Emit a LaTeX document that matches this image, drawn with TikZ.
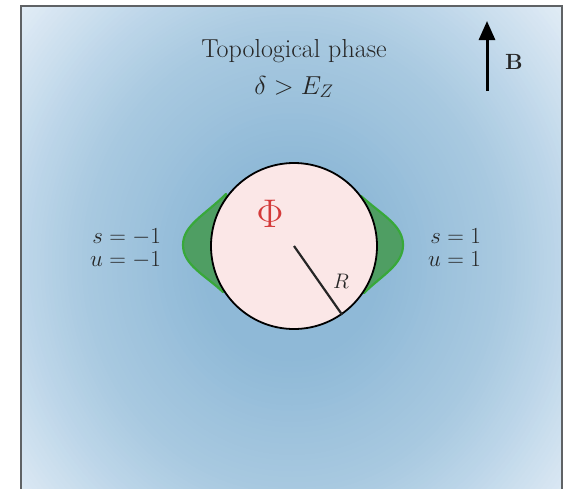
\RequirePackage{fix-cm}
\documentclass[tikz,border=0pt]{standalone}
\usetikzlibrary{arrows.meta}
\definecolor{bgin}{HTML}{8FB9D7}
\definecolor{cA}{HTML}{A8C9E0}
\definecolor{cB}{HTML}{BDD6E9}
\definecolor{cC}{HTML}{E8F0F8}
\definecolor{framegray}{HTML}{5F6265}
\definecolor{diskfill}{HTML}{FBE7E7}
\definecolor{lobefill}{HTML}{4F9E63}
\definecolor{lobeedge}{HTML}{38A83A}
\definecolor{phired}{HTML}{D43A3A}
\definecolor{txt}{HTML}{262626}
\tikzset{
  lobe/.style={fill=lobefill, draw=lobeedge, line width=2.2pt, line join=round},
  lbl/.style={text=txt, inner sep=0pt},
}
\begin{document}
\begin{tikzpicture}[x=1pt,y=-1pt]
\useasboundingbox (0,0) rectangle (570,488);
\clip (0,0) rectangle (570,488);
% background panel: stepped elliptical gradient
\coordinate (gc) at (292,262);
\begin{scope}
\clip (21,6) rectangle (562,500);
\fill[cC] (21,6) rectangle (562,500);
\foreach \i in {0,...,24}{
  \pgfmathsetmacro\rr{1.25-0.35*\i/24}
  \pgfmathtruncatemacro\pp{100*\i/24}
  \fill[cB!\pp!cC] (gc) ellipse ({300*\rr} and {330*\rr});
}
\foreach \i in {1,...,16}{
  \pgfmathsetmacro\rr{0.9-0.2*\i/16}
  \pgfmathtruncatemacro\pp{100*\i/16}
  \fill[cA!\pp!cB] (gc) ellipse ({300*\rr} and {330*\rr});
}
\foreach \i in {1,...,24}{
  \pgfmathsetmacro\rr{0.7-0.4*\i/24}
  \pgfmathtruncatemacro\pp{100*\i/24}
  \fill[bgin!\pp!cA] (gc) ellipse ({300*\rr} and {330*\rr});
}
\end{scope}
\draw[framegray, line width=2.5pt] (21,500) -- (21,6) -- (562,6) -- (562,500);
% lobes
\path[lobe] (226,194) .. controls (205,215) and (183,225) .. (183,245)
  .. controls (183,265) and (205,275) .. (223,292) -- (232,245) -- cycle;
\path[lobe] (361,196) .. controls (382,215) and (403,225) .. (403,245)
  .. controls (403,265) and (382,275) .. (364,293) -- (356,245) -- cycle;
% disk
\node[circle, draw=black, line width=1.8pt, fill=diskfill, minimum size=166pt, inner sep=0pt] (disk) at (294,246) {};
\draw[line width=2.2pt, txt] (disk.center) -- (disk.-55);
\node[text=phired, inner sep=0pt] (phi) at (270,214) {\fontsize{40}{44}\selectfont$\Phi$};
\node[lbl] (rlab) at (341,281) {\fontsize{21}{24}\selectfont$R$};
% titles
\node[lbl, anchor=base] (title) at (294,57) {\fontsize{26}{30}\selectfont Topological phase};
\node[lbl, anchor=base] (cond) at (294,94) {\fontsize{26}{30}\selectfont$\delta > E_Z$};
% B arrow
\coordinate (bbot) at (487,91);
\coordinate (btop) at (487,21);
\draw[line width=3pt, -{Triangle[length=19pt,width=16pt]}] (bbot) -- (btop);
\node[lbl] (blab) at (514,62) {\fontsize{22}{26}\selectfont$\mathbf{B}$};
% side labels
\node[lbl, anchor=east] (left) at (161,250) {\fontsize{23}{23}\selectfont$\begin{array}{@{}r@{}l@{}} s&{}=-1\\ u&{}=-1\end{array}$};
\node[lbl, anchor=west] (right) at (428,250) {\fontsize{23}{23}\selectfont$\begin{array}{@{}r@{}l@{}} s&{}=1\\ u&{}=1\end{array}$};
\end{tikzpicture}
\end{document}
